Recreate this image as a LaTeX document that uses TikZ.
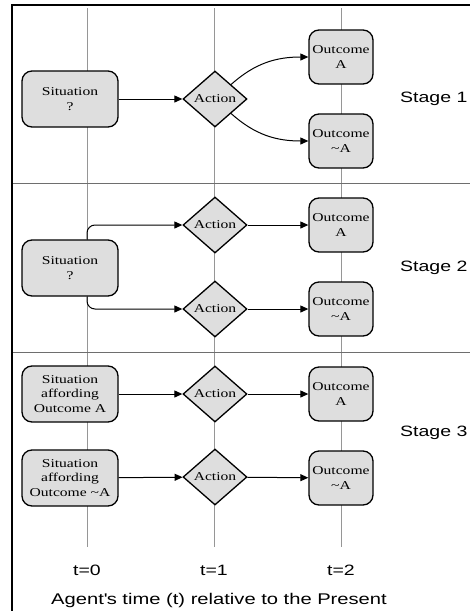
\documentclass[tikz,border=0pt]{standalone}
\usepackage{fontspec}
\setmainfont{Liberation Serif}
\newfontfamily\boxfont[FakeStretch=1.3]{Liberation Serif}
\newfontfamily\labelfont[FakeStretch=1.3]{Liberation Sans}
\usetikzlibrary{arrows.meta, positioning, shapes.geometric}
\definecolor{boxgray}{RGB}{222,222,222}
\definecolor{gridgray}{RGB}{150,150,150}
\definecolor{rulegray}{RGB}{110,110,110}

\begin{document}
\begin{tikzpicture}[x=1pt, y=-1pt,
        situation/.style={draw, line width=1.3pt, fill=boxgray, rounded corners=10pt,
            minimum width=96pt, minimum height=56pt, inner sep=1pt, align=center,
            font=\boxfont\fontsize{12}{14.5}\selectfont},
        outcome/.style={situation, minimum width=64pt, minimum height=54pt},
        action/.style={diamond, draw, line width=1.3pt, fill=boxgray, aspect=1.14,
            minimum width=64pt, minimum height=56pt, inner sep=0pt,
            font=\boxfont\fontsize{12}{14.5}\selectfont},
        stagelabel/.style={anchor=west, inner sep=1pt, font=\labelfont\fontsize{15}{17}\selectfont},
        flow/.style={-{Triangle[length=8pt,width=7pt]}, line width=1pt}]
    \useasboundingbox (0,0) rectangle (470,611);

    % time lines
    \foreach \x/\t in {87/0, 214/1, 341/2} {
        \draw[gridgray, line width=0.9pt] (\x,8) -- (\x,547);
        \coordinate (top\t) at (\x,8);
        \node[stagelabel, anchor=center] (time\t) at (\x,570) {t=\t};
    }
    \draw[rulegray, line width=0.9pt] (13,183) -- (470,183);
    \draw[rulegray, line width=0.9pt] (13,352) -- (470,352);
    \draw[line width=2pt] (480,5) -- (12,5) -- (12,620);

    % stage 1
    \node (sit1) [situation] at (70,99) {Situation\\?};
    \node (act1) [action] at (215,99) {Action};
    \node (outA1) [outcome] at (341,57) {Outcome\\A};
    \node (outN1) [outcome] at (341,141) {Outcome\\\textasciitilde A};
    \node (stage1) [stagelabel] at (399,99) {Stage 1};

    % stage 2
    \node (sit2) [situation] at (70,268) {Situation\\?};
    \node (act2a) [action] at (215,225) {Action};
    \node (act2b) [action] at (215,309) {Action};
    \node (outA2) [outcome] at (341,225) {Outcome\\A};
    \node (outN2) [outcome] at (341,309) {Outcome\\\textasciitilde A};
    \node (stage2) [stagelabel] at (399,268) {Stage 2};

    % stage 3
    \node (sit3a) [situation] at (70,394) {Situation\\affording\\Outcome A};
    \node (sit3b) [situation] at (70,478) {Situation\\affording\\Outcome \textasciitilde A};
    \node (act3a) [action] at (215,394) {Action};
    \node (act3b) [action] at (215,477) {Action};
    \node (outA3) [outcome] at (341,394) {Outcome\\A};
    \node (outN3) [outcome] at (341,478) {Outcome\\\textasciitilde A};
    \node (stage3) [stagelabel] at (399,433) {Stage 3};

    \node (axis) [stagelabel, anchor=center, font=\labelfont\fontsize{15.5}{17}\selectfont]
        at (219,600) {Agent\textquotesingle s time (t) relative to the Present};

    \path[flow]
        (sit1) edge (act1)
        (act1) edge [out=42, in=180] (outA1)
        (act1) edge [out=-42, in=180] (outN1)
        (act2a) edge (outA2)
        (act2b) edge (outN2)
        (sit3a) edge (act3a)
        (sit3b) edge (act3b)
        (act3a) edge (outA3)
        (act3b) edge (outN3);
    \draw[flow, rounded corners=8pt] (sit2.north -| top0) |- (act2a);
    \draw[flow, rounded corners=8pt] (sit2.south -| top0) |- (act2b);
\end{tikzpicture}
\end{document}
